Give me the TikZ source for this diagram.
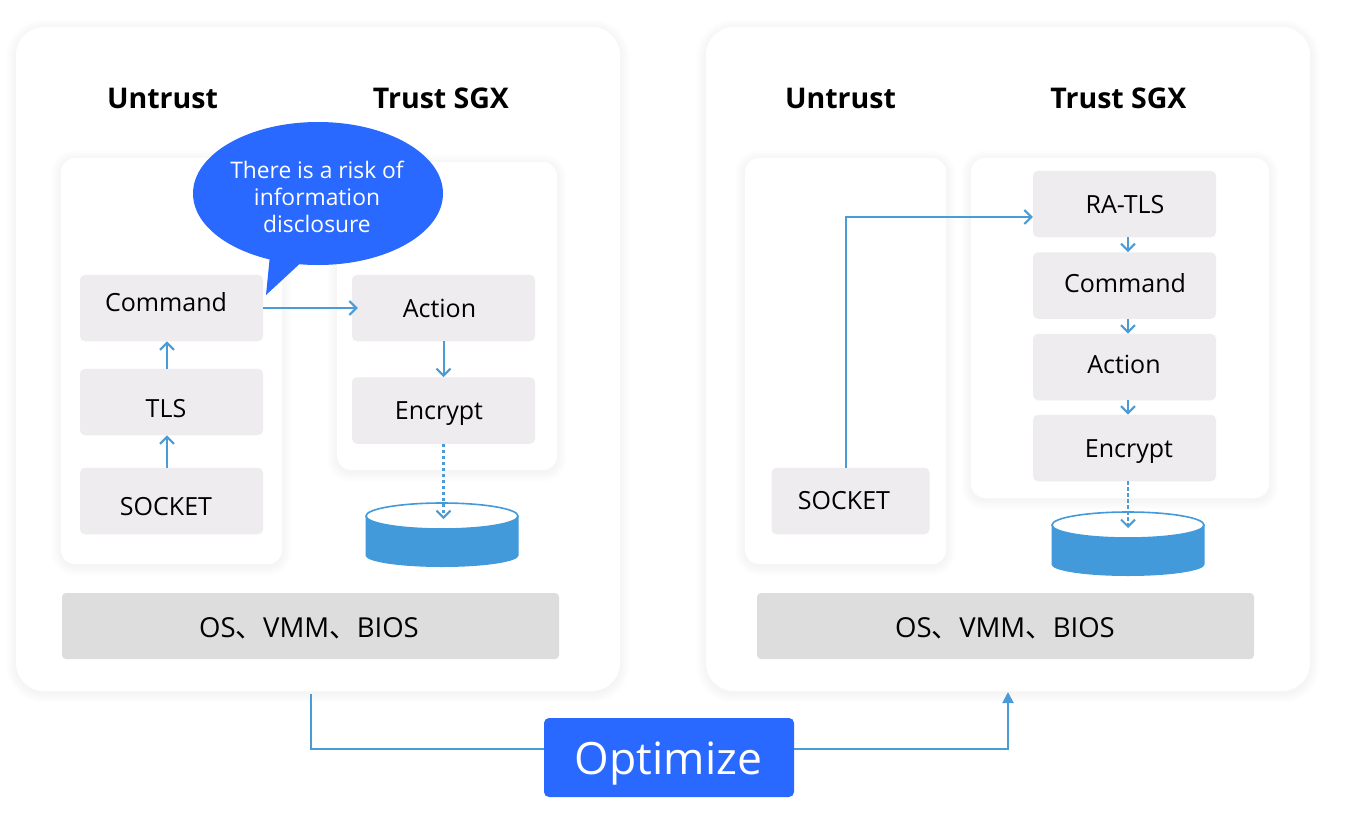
\documentclass[tikz,border=0pt]{standalone}
\usepackage{fontspec}
\setmainfont{Open Sans}
\newfontfamily\cjkfont{Noto Sans CJK SC}
\usetikzlibrary{arrows.meta,shapes.geometric,positioning}
\definecolor{linkblue}{HTML}{4A9BD6}
\definecolor{dbblue}{HTML}{429ADB}
\definecolor{brandblue}{HTML}{2A69FF}
\definecolor{boxgrey}{HTML}{EEECEF}
\definecolor{bargrey}{HTML}{DDDDDD}
\newcommand{\softshadow}[5]{%
  \foreach \i in {1,...,10}{
    \fill[black,opacity=0.0045,rounded corners=#5+\i]
      (#1-\i,#2-\i+2) rectangle (#3+\i,#4+\i+2);
  }}
\tikzset{
  x=1pt,y=-1pt,
  panel/.style={fill=white,rounded corners=28pt,minimum width=604pt,minimum height=664pt,inner sep=0pt},
  inner panel/.style={fill=white,rounded corners=14pt,inner sep=0pt},
  stepbox/.style={fill=boxgrey,rounded corners=5pt,minimum width=183pt,minimum height=66.5pt,inner sep=0pt},
  osbar/.style={fill=bargrey,rounded corners=4pt,minimum width=497pt,minimum height=66pt,inner sep=0pt},
  lbl/.style={font=\fontsize{25}{30}\selectfont,inner sep=0pt},
  oslbl/.style={font=\fontsize{27.5}{32}\selectfont,inner sep=0pt},
  head/.style={font=\fontsize{28.5}{34}\selectfont\bfseries,inner sep=0pt},
  link/.style={draw=linkblue,line width=2pt,-{Straight Barb[length=7pt,width=14pt,line width=2pt]}},
  dashlink/.style={link,line width=2.3pt,dash pattern=on 3.4pt off 2.6pt},
  plainlink/.style={draw=linkblue,line width=1.9pt},
}
\newcommand{\disc}[3]{% centre x, top-ellipse centre y, name
  \fill[dbblue] (#1-76.5,#2) -- (#1-76.5,#2+39.5) arc[start angle=180,end angle=0,x radius=76.5,y radius=11.5] -- (#1+76.5,#2) -- cycle;
  \filldraw[fill=white,draw=dbblue,line width=1.6pt] (#1,#2) ellipse[x radius=76,y radius=13];
  \coordinate (#3) at (#1,#2+3);
}
\begin{document}
\begin{tikzpicture}
\useasboundingbox (0,0) rectangle (1350,822);
\fill[white] (0,0) rectangle (1350,822);
% soft shadows
\softshadow{16}{27}{620}{691}{28}
\softshadow{706}{27}{1310}{691}{28}
% panels
\node[panel] (panelL) at (318,359) {};
\node[panel] (panelR) at (1008,359) {};
\softshadow{61}{158}{282}{564}{14}
\softshadow{337}{162}{557}{470}{14}
\softshadow{745}{158}{946}{564}{14}
\softshadow{971}{158}{1269}{498}{14}
\node[inner panel,minimum width=221pt,minimum height=406pt] (untrustL) at (171.5,361) {};
\node[inner panel,minimum width=220pt,minimum height=308pt] (trustL) at (447,316) {};
\node[inner panel,minimum width=201pt,minimum height=406pt] (untrustR) at (845.5,361) {};
\node[inner panel,minimum width=298pt,minimum height=340pt] (trustR) at (1120,328) {};
% headers
\node[head] (h1) at (162.5,98.5) {Untrust};
\node[head] (h2) at (441,98.5) {Trust SGX};
\node[head] (h3) at (840.5,98.5) {Untrust};
\node[head] (h4) at (1118.5,98.5) {Trust SGX};
% left boxes
\node[stepbox] (cmdL) at (171.5,308) {};
\node[stepbox] (tlsL) at (171.5,402) {};
\node[stepbox] (sockL) at (171.5,501) {};
\node[stepbox] (actL) at (443.5,308) {};
\node[stepbox] (encL) at (443.5,410.5) {};
\node[lbl] (tcmdL) at (166,302) {Command};
\node[lbl] (ttlsL) at (166,409) {TLS};
\node[lbl] (tsockL) at (166,507) {SOCKET};
\node[lbl] (tactL) at (439.5,308) {Action};
\node[lbl] (tencL) at (439,414) {Encrypt};
% right boxes
\node[stepbox] (ratls) at (1124.5,204) {};
\node[stepbox] (cmdR) at (1124.5,285.5) {};
\node[stepbox] (actR) at (1124.5,367) {};
\node[stepbox] (encR) at (1124.5,448) {};
\node[stepbox,minimum width=158pt] (sockR) at (850.5,501) {};
\node[lbl] (tratls) at (1125,205) {RA-TLS};
\node[lbl] (tcmdR) at (1125,283.5) {Command};
\node[lbl] (tactR) at (1124,364.5) {Action};
\node[lbl] (tencR) at (1129,452) {Encrypt};
\node[lbl] (tsockR) at (844,501) {SOCKET};
% OS bars
\node[osbar] (osL) at (310.5,626) {};
\node[osbar] (osR) at (1005.5,626) {};
\node[oslbl] (tosL) at (309,628) {OS{\cjkfont 、}VMM{\cjkfont 、}BIOS};
\node[oslbl] (tosR) at (1005,628) {OS{\cjkfont 、}VMM{\cjkfont 、}BIOS};
% discs
\disc{442}{516}{dbL}
\disc{1128}{525}{dbR}
% connectors left
\draw[link] ([xshift=-4.5pt]tlsL.north) -- ([xshift=-4.5pt]cmdL.south);
\draw[link] ([xshift=-4.5pt]sockL.north) -- ([xshift=-4.5pt]tlsL.south);
\draw[link] (cmdL.east) -- ([xshift=6pt]actL.west);
\draw[link] (actL.south) -- (encL.north);
\draw[dashlink] (encL.south) -- (encL.south |- dbL);
% connectors right
\draw[link] ([xshift=-4.5pt]sockR.north) |- ([yshift=-13pt]ratls.west);
\draw[link] ([xshift=3.5pt]ratls.south) -- ([xshift=3.5pt]cmdR.north);
\draw[link] ([xshift=3.5pt]cmdR.south) -- ([xshift=3.5pt]actR.north);
\draw[link] ([xshift=3.5pt]actR.south) -- ([xshift=3.5pt]encR.north);
\draw[dashlink] ([xshift=3.5pt]encR.south) -- ([xshift=3.5pt]encR.south |- dbR);
% bubble
\fill[brandblue] (270,255) -- (266,295) -- (306,258) -- cycle;
\node[ellipse,fill=brandblue,minimum width=250pt,minimum height=143pt,inner sep=0pt] (bubble) at (318,193.5) {};
\node[inner sep=0pt,text=white,font=\fontsize{22.8}{27}\selectfont,align=center] (tbubble) at (317,197) {There is a risk of\\information\\disclosure};
% optimize
\node[fill=brandblue,rounded corners=5pt,minimum width=250pt,minimum height=79pt,inner sep=0pt] (opt) at (669,757.5) {};
\node[inner sep=0pt,text=white,font=\fontsize{44.5}{50}\selectfont] (topt) at (668.5,764) {Optimize};
\coordinate (startL) at (311,694);
\coordinate (endR) at (1008,692);
\draw[plainlink] (startL) |- ([yshift=8.5pt]opt.west);
\draw[plainlink,-{Triangle[length=11pt,width=11pt]}] ([yshift=8.5pt]opt.east) -| (endR);
\end{tikzpicture}
\end{document}
